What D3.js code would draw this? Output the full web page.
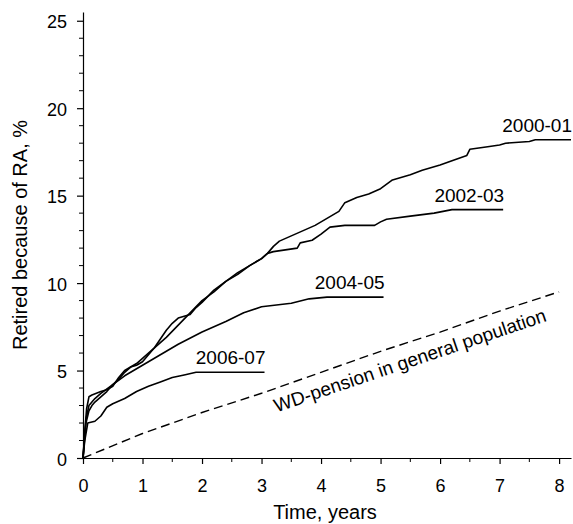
<!DOCTYPE html>
<html>
<head>
<meta charset="utf-8">
<script src="https://cdn.jsdelivr.net/npm/d3@7"></script>
<style>
  html, body { margin: 0; padding: 0; background: #fff; }
  svg { display: block; }
  text { font-family: "Liberation Sans", Arial, sans-serif; fill: #000; }
</style>
</head>
<body>
<div id="chart"></div>
<script>
// ---- Data ----
const seriesNames = ["2000-01", "2002-03", "2004-05", "2006-07"];

const t2000 = [0, 0.03, 0.06, 0.1, 0.15, 0.3, 0.4, 0.5, 0.6, 0.7, 0.8, 0.9, 1.0, 1.1, 1.2, 1.3, 1.4, 1.5, 1.6, 1.7, 1.8, 1.9, 2.0, 2.2, 2.4, 2.6, 2.8, 3.0, 3.1, 3.2, 3.3, 3.5, 3.7, 3.9, 4.1, 4.3, 4.4, 4.6, 4.8, 5.0, 5.2, 5.5, 5.7, 6.0, 6.2, 6.45, 6.5, 6.8, 7.0, 7.1, 7.5, 7.6, 8.2];
const v2000 = [0, 1.5, 2.8, 3.5, 3.6, 3.8, 3.9, 4.1, 4.6, 5.0, 5.2, 5.3, 5.5, 5.9, 6.3, 6.8, 7.3, 7.7, 8.0, 8.1, 8.2, 8.6, 8.9, 9.6, 10.1, 10.5, 11.0, 11.4, 11.7, 12.1, 12.4, 12.7, 13.0, 13.3, 13.7, 14.1, 14.6, 14.9, 15.1, 15.4, 15.9, 16.2, 16.45, 16.75, 17.0, 17.3, 17.65, 17.8, 17.9, 18.0, 18.1, 18.2, 18.2];

const t2002 = [0, 0.05, 0.1, 0.15, 0.2, 0.3, 0.4, 0.5, 0.6, 0.7, 0.8, 0.9, 1.0, 1.2, 1.4, 1.6, 1.8, 2.0, 2.2, 2.4, 2.6, 2.8, 3.0, 3.1, 3.2, 3.4, 3.6, 3.65, 3.85, 4.0, 4.15, 4.4, 4.9, 5.0, 5.1, 5.5, 5.9, 6.2, 7.06];
const v2002 = [0, 2.0, 2.7, 3.0, 3.2, 3.5, 3.8, 4.2, 4.5, 4.9, 5.2, 5.4, 5.7, 6.3, 6.9, 7.6, 8.3, 9.0, 9.5, 10.1, 10.6, 11.0, 11.4, 11.7, 11.8, 11.9, 12.0, 12.3, 12.45, 12.8, 13.2, 13.3, 13.3, 13.5, 13.65, 13.83, 14.0, 14.2, 14.2];

const t2004 = [0, 0.05, 0.1, 0.2, 0.3, 0.5, 0.7, 1.0, 1.3, 1.6, 2.0, 2.4, 2.7, 3.0, 3.5, 3.8, 4.1, 5.05];
const v2004 = [0, 2.2, 3.0, 3.4, 3.7, 4.2, 4.7, 5.3, 5.9, 6.5, 7.2, 7.8, 8.3, 8.65, 8.85, 9.1, 9.2, 9.2];

const t2006 = [0, 0.03, 0.08, 0.2, 0.3, 0.4, 0.5, 0.7, 0.9, 1.1, 1.3, 1.5, 1.7, 1.9, 3.05];
const v2006 = [0, 1.0, 2.0, 2.1, 2.4, 2.9, 3.1, 3.4, 3.8, 4.1, 4.35, 4.6, 4.75, 4.9, 4.9];

const wdTime  = [0, 1, 2, 3, 4, 5, 6, 7, 8];
const wdValue = [0, 1.4, 2.6, 3.7, 4.9, 6.1, 7.2, 8.4, 9.5];
const wdLabel = "WD-pension in general population";

const xTicks = [0, 1, 2, 3, 4, 5, 6, 7, 8];
const yTicks = [0, 5, 10, 15, 20, 25];
const xTitle = "Time, years";
const yTitle = "Retired because of RA, %";

// ---- Chart ----
const W = 573, H = 524;
const svg = d3.select("#chart").append("svg").attr("width", W).attr("height", H);

const x = d3.scaleLinear().domain([0, 8.2]).range([83, 571]);
const y = d3.scaleLinear().domain([0, 25.5]).range([458, 12]);

// Axes
const xMinor = d3.range(0, 8.01, 0.5).filter(v => !xTicks.includes(v));
const yMinor = d3.range(0, 25.5, 1).filter(v => !yTicks.includes(v));

const gx = svg.append("g").attr("transform", `translate(0,${y(0)})`);
gx.call(d3.axisBottom(x).tickValues(xTicks).tickFormat(d3.format("d")).tickSize(6).tickPadding(15).tickSizeOuter(0));
gx.selectAll(".tick").filter(function(){return false;});
gx.append("g").selectAll("line").data(xMinor).join("line")
  .attr("x1", d => x(d)).attr("x2", d => x(d)).attr("y1", 0).attr("y2", 4).attr("stroke", "#000");

const gy = svg.append("g").attr("transform", `translate(${x(0)},0)`);
gy.call(d3.axisLeft(y).tickValues(yTicks).tickFormat(d3.format("d")).tickSize(6).tickPadding(10).tickSizeOuter(0));
gy.append("g").selectAll("line").data(yMinor).join("line")
  .attr("y1", d => y(d)).attr("y2", d => y(d)).attr("x1", 0).attr("x2", -4).attr("stroke", "#000");

svg.selectAll(".domain").attr("stroke", "#000").attr("stroke-width", 1.2);
svg.selectAll(".tick line").attr("stroke", "#000").attr("stroke-width", 1.2);
svg.selectAll(".tick text").attr("font-size", 18).attr("font-family", "Liberation Sans, Arial, sans-serif");
gy.selectAll(".tick text").attr("dy", "0.40em");

// Titles
svg.append("text").attr("x", (x(0) + x(8.2)) / 2 - 2).attr("y", 519)
  .attr("text-anchor", "middle").attr("font-size", 20).text(xTitle);
svg.append("text").attr("transform", `translate(27,${(y(0) + y(25.5)) / 2})rotate(-90)`)
  .attr("text-anchor", "middle").attr("font-size", 20).text(yTitle);

// Curves
const series = [
  { name: seriesNames[0], t: t2000, v: v2000 },
  { name: seriesNames[1], t: t2002, v: v2002 },
  { name: seriesNames[2], t: t2004, v: v2004 },
  { name: seriesNames[3], t: t2006, v: v2006 }
];
const line = d3.line().x(d => x(d[0])).y(d => y(d[1])).curve(d3.curveLinear);

series.forEach(s => {
  const pts = s.t.map((t, i) => [t, s.v[i]]);
  svg.append("path").datum(pts).attr("d", line)
    .attr("fill", "none").attr("stroke", "#000").attr("stroke-width", 1.6)
    .attr("stroke-linejoin", "round");
  const last = pts[pts.length - 1];
  svg.append("text").attr("x", x(last[0]) + 1).attr("y", y(last[1]) - 8)
    .attr("text-anchor", "end").attr("font-size", 19).text(s.name);
});

// WD-pension dashed
const wdPts = wdTime.map((t, i) => [t, wdValue[i]]);
svg.append("path").datum(wdPts).attr("d", line)
  .attr("fill", "none").attr("stroke", "#000").attr("stroke-width", 1.4)
  .attr("stroke-dasharray", "9,5");

const ang = -Math.atan2((y(wdValue[2]) - y(wdValue[8])), (x(wdTime[8]) - x(wdTime[2]))) * 180 / Math.PI;
svg.append("text")
  .attr("transform", `translate(${x(3.25)},${y(2.6)})rotate(${ang})`)
  .attr("font-size", 19).text(wdLabel);
</script>
</body>
</html>
